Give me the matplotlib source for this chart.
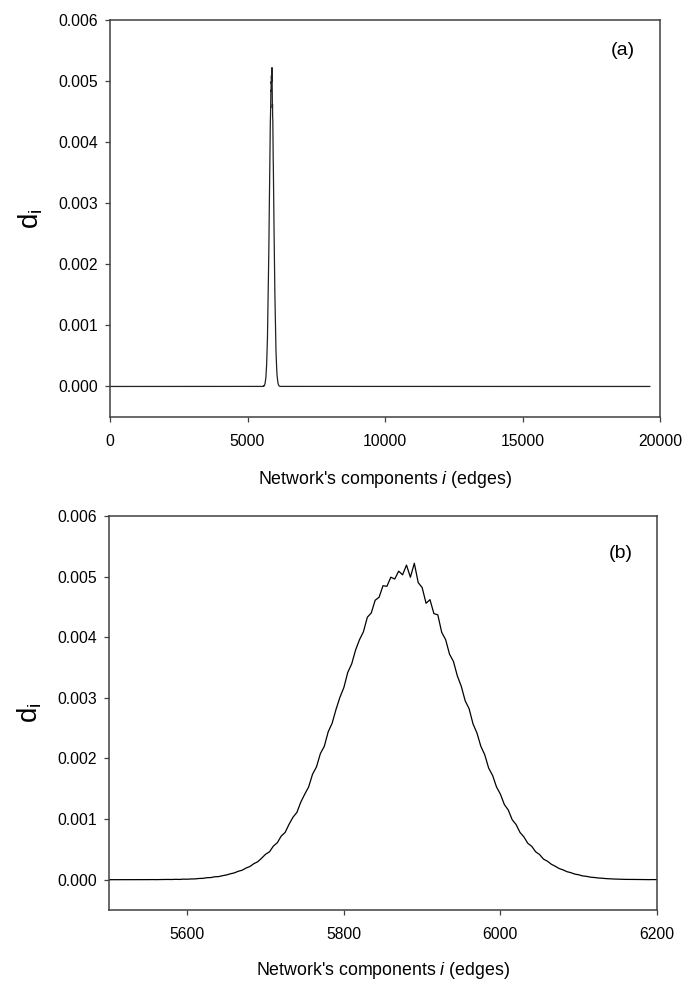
"""
Two-panel plot of d_i over network components (edges): full range (a) and zoom on the peak (b).
"""

import numpy as np
import matplotlib
matplotlib.use("Agg")
import matplotlib.pyplot as plt

plt.rcParams['font.family'] = ['Liberation Sans', 'DejaVu Sans']
plt.rcParams['mathtext.fontset'] = 'custom'
plt.rcParams['mathtext.rm'] = 'Liberation Sans'
plt.rcParams['mathtext.it'] = 'Liberation Sans:italic'

# Data. Edges every 5 from 5500 to 6200; d_i in units of 1e-6.
EDGE_START, EDGE_STOP, EDGE_STEP = 5500, 6200, 5
d_micro = [
    0, 0, 0, 0, 1, 0, 1, 1, 0, 1, 1, 2, 1, 2, 3,                      # 5500-5570
    4, 3, 6, 4, 9, 8, 12, 13, 20, 22, 33, 35, 48, 51, 66,              # 5575-5645
    78, 97, 112, 138, 156, 192, 218, 264, 296, 355,                    # 5650-5695
    420, 460, 555, 610, 720, 780, 915, 1030, 1110, 1280,               # 5700-5745
    1410, 1530, 1740, 1860, 2080, 2200, 2440, 2580, 2810, 3010,        # 5750-5795
    3170, 3420, 3560, 3790, 3960, 4090, 4330, 4400, 4610, 4660,        # 5800-5845
    4850, 4840, 4990, 4960, 5090, 5030, 5190, 4990, 5220, 4900,        # 5850-5895
    4820, 4560, 4620, 4390, 4370, 4080, 3960, 3720, 3600, 3360,        # 5900-5945
    3190, 2950, 2820, 2570, 2420, 2200, 2060, 1840, 1720, 1530,        # 5950-5995
    1410, 1240, 1150, 990, 910, 780, 705, 600, 550, 460,               # 6000-6045
    415, 340, 305, 255, 222, 184, 162, 132, 116, 92,                   # 6050-6095
    81, 62, 55, 42, 36, 28, 24, 18, 14, 11,                            # 6100-6145
    9, 7, 5, 5, 4, 3, 3, 2, 1, 2, 1,                                   # 6150-6200
]

# Panel (a) runs the same series out to the full edge count, flat at zero.
A_FIRST_EDGE = 0
A_LAST_EDGE = 19630

edges = np.arange(EDGE_START, EDGE_STOP + 1, EDGE_STEP)
d_i = np.array(d_micro) * 1e-6

edges_a = np.concatenate([[A_FIRST_EDGE], edges, [A_LAST_EDGE]])
d_a = np.concatenate([[0.0], d_i, [0.0]])

# Plot.
W, H = 699, 983
fig = plt.figure(figsize=(W / 100, H / 100), dpi=100)

ax_a = fig.add_axes([110 / W, 1 - 417 / H, 550 / W, 397 / H])
ax_b = fig.add_axes([109 / W, 1 - 910 / H, 548 / W, 394 / H])

ax_a.plot(edges_a, d_a, color="#222222", lw=0.9)
ax_b.plot(edges, d_i, color="black", lw=0.9)

ax_a.set_xlim(0, 20000)
ax_a.set_xticks([0, 5000, 10000, 15000, 20000])
ax_b.set_xlim(5500, 6200)
ax_b.set_xticks([5600, 5800, 6000, 6200])

for ax, tag, tag_y in ((ax_a, "(a)", 0.924), (ax_b, "(b)", 0.906)):
    ax.set_ylim(-0.0005, 0.006)
    ax.set_yticks([0, 0.001, 0.002, 0.003, 0.004, 0.005, 0.006])
    ax.yaxis.set_major_formatter(matplotlib.ticker.FormatStrFormatter("%.3f"))
    for s in ax.spines.values():
        s.set_color("#404040")
        s.set_linewidth(1.1)
    ax.tick_params(axis="both", direction="out", length=3.6, width=0.9,
                   color="#404040", labelsize=11.3, top=False, right=False)
    ax.tick_params(axis="x", pad=8.5)
    ax.tick_params(axis="y", pad=5)
    ax.set_ylabel(r"$\mathrm{d_i}$", fontsize=20)
    ax.yaxis.set_label_coords(-0.118, 0.5)
    ax.set_xlabel(r"Network's components $i$ (edges)", fontsize=12.8, va="top")
    ax.text(0.955, tag_y, tag, transform=ax.transAxes, ha="right", va="center",
            fontsize=14)

ax_a.xaxis.set_label_coords(0.5, -0.131)
ax_b.xaxis.set_label_coords(0.5, -0.127)

fig.savefig("out.png", dpi=100)
